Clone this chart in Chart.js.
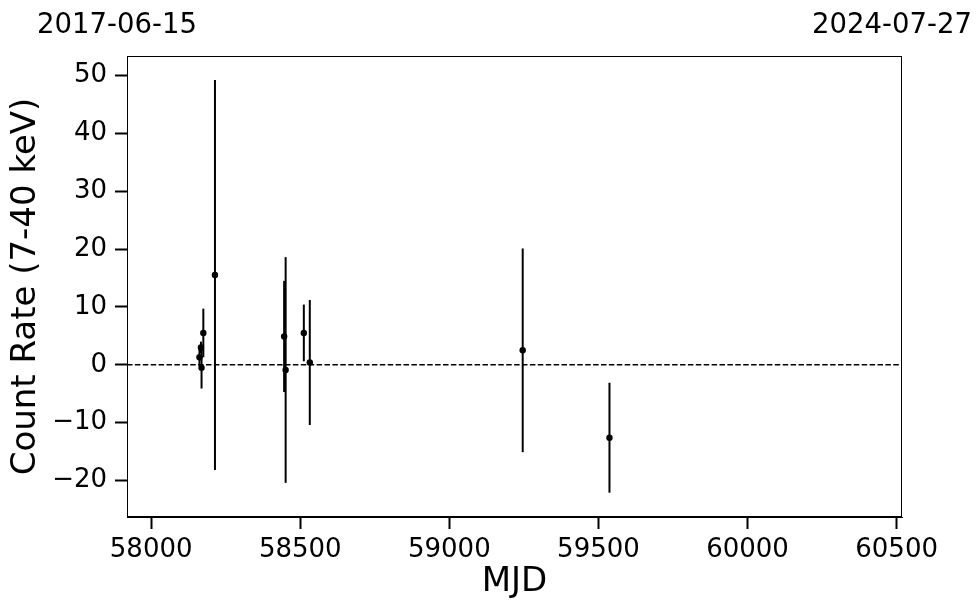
<!DOCTYPE html>
<html>
<head>
<meta charset="utf-8">
<script src="https://cdn.jsdelivr.net/npm/chart.js@4"></script>
<style>
  html, body { margin: 0; padding: 0; background: #fff; }
</style>
</head>
<body>
<canvas id="lcChart" width="980" height="613"></canvas>
<script>
// light curve values
const mjd     = [58162, 58167, 58169, 58175, 58214, 58446, 58451, 58512, 58532, 59246, 59537];
const rate    = [1.3, 3.0, -0.5, 5.5, 15.5, 4.9, -0.9, 5.5, 0.4, 2.5, -12.6];
const rateErr = [1.5, 1.0, 3.6, 4.2, 33.7, 9.6, 19.5, 4.9, 10.8, 17.6, 9.5];

const xTicks = [58000, 58500, 59000, 59500, 60000, 60500];
const yTicks = [-20, -10, 0, 10, 20, 30, 40, 50];
const xRange = [57919, 60518];
const yRange = [-26.3, 53.35];
const dateLabels = ['2017-06-15', '2024-07-27'];

Chart.defaults.font.family = '"DejaVu Sans", sans-serif';
Chart.defaults.color = '#000';

const minus = v => (v < 0 ? '\u2212' + Math.abs(v) : String(v));

// error bars, zero line and the box around the axes
const errorBars = {
  id: 'errorBars',
  beforeDatasetsDraw(chart) {
    const { ctx, chartArea: a, scales: { x, y } } = chart;
    ctx.save();
    ctx.beginPath();
    ctx.rect(a.left, a.top, a.width, a.height);
    ctx.clip();
    ctx.strokeStyle = '#000';
    ctx.lineWidth = 1.5;
    ctx.setLineDash([5.5, 2.4]);
    const y0 = y.getPixelForValue(0);
    ctx.beginPath();
    ctx.moveTo(a.left, y0);
    ctx.lineTo(a.right, y0);
    ctx.stroke();
    ctx.setLineDash([]);
    ctx.lineWidth = 2;
    mjd.forEach((m, i) => {
      const px = x.getPixelForValue(m);
      ctx.beginPath();
      ctx.moveTo(px, y.getPixelForValue(rate[i] - rateErr[i]));
      ctx.lineTo(px, y.getPixelForValue(rate[i] + rateErr[i]));
      ctx.stroke();
    });
    ctx.restore();
  },
  afterDraw(chart) {
    const { ctx, chartArea: a } = chart;
    ctx.save();
    ctx.strokeStyle = '#000';
    ctx.lineWidth = 1;
    ctx.strokeRect(a.left + 0.5, a.top + 0.5, a.width - 1, a.height - 1);
    ctx.restore();
  }
};

const ctx = document.getElementById('lcChart').getContext('2d');
const lcChart = new Chart(ctx, {
  type: 'scatter',
  data: {
    datasets: [{
      data: mjd.map((m, i) => ({ x: m, y: rate[i] })),
      pointRadius: 3.2,
      pointBackgroundColor: '#000',
      pointBorderWidth: 0,
      xAxisID: 'x',
      yAxisID: 'y'
    }]
  },
  options: {
    responsive: false,
    animation: false,
    layout: { padding: { left: 0, right: 78, top: 0, bottom: 0 } },
    plugins: { legend: { display: false }, tooltip: { enabled: false } },
    scales: {
      x: {
        type: 'linear',
        position: 'bottom',
        min: xRange[0],
        max: xRange[1],
        afterBuildTicks: s => { s.ticks = xTicks.map(v => ({ value: v })); },
        afterFit: s => { s.height = 96; s.paddingLeft = 0; s.paddingRight = 0; },
        ticks: { font: { size: 26 }, padding: 6, maxRotation: 0, autoSkip: false, callback: v => minus(v) },
        grid: { drawOnChartArea: false, tickLength: 12, tickWidth: 2, tickColor: '#000' },
        border: { color: '#000', width: 1 },
        title: { display: true, text: 'MJD', font: { size: 34 }, padding: { top: 0, bottom: 10 } }
      },
      x2: {
        type: 'linear',
        position: 'top',
        min: xRange[0],
        max: xRange[1],
        afterBuildTicks: s => { s.ticks = xRange.map(v => ({ value: v })); },
        afterFit: s => { s.height = 56; s.paddingLeft = 0; s.paddingRight = 0; },
        ticks: { font: { size: 27.5 }, padding: 14, labelOffset: -10, maxRotation: 0, autoSkip: false,
                 callback: (v, i) => dateLabels[i] },
        grid: { display: false, drawTicks: false },
        border: { display: false }
      },
      y: {
        type: 'linear',
        position: 'left',
        min: yRange[0],
        max: yRange[1],
        afterBuildTicks: s => { s.ticks = yTicks.map(v => ({ value: v })); },
        afterFit: s => { s.width = 127; s.paddingTop = 0; s.paddingBottom = 0; },
        ticks: { font: { size: 26 }, padding: 8, autoSkip: false, callback: v => minus(v) },
        grid: { drawOnChartArea: false, tickLength: 12, tickWidth: 2, tickColor: '#000' },
        border: { color: '#000', width: 1 },
        title: { display: true, text: 'Count Rate (7-40 keV)', font: { size: 34 }, padding: { top: 6, bottom: 0 } }
      }
    }
  },
  plugins: [errorBars]
});
</script>
</body>
</html>
